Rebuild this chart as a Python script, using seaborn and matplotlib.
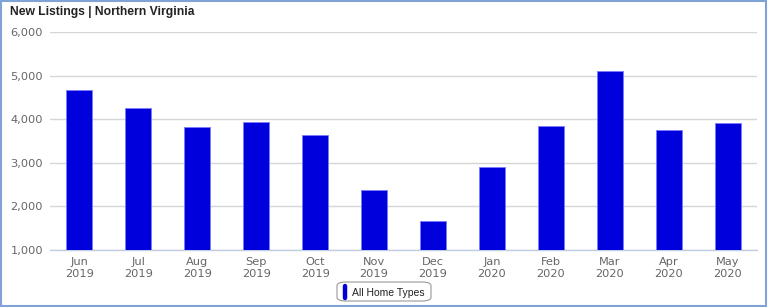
import matplotlib
matplotlib.use("Agg")
import matplotlib.pyplot as plt
import seaborn as sns
import pandas as pd
from matplotlib.patches import Rectangle, FancyBboxPatch
from matplotlib.lines import Line2D

months = ["Jun\n2019", "Jul\n2019", "Aug\n2019", "Sep\n2019", "Oct\n2019", "Nov\n2019",
          "Dec\n2019", "Jan\n2020", "Feb\n2020", "Mar\n2020", "Apr\n2020", "May\n2020"]
listings = [4670, 4250, 3825, 3940, 3640, 2380, 1660, 2910, 3850, 5110, 3760, 3910]
y_ticks = [1000, 2000, 3000, 4000, 5000, 6000]
y_tick_labels = ["1,000", "2,000", "3,000", "4,000", "5,000", "6,000"]

sns.set_style("white")
plt.rcParams['font.family'] = ['DejaVu Sans']

df = pd.DataFrame({"month": months, "listings": listings})

fig = plt.figure(figsize=(7.68, 3.07), dpi=100)
ax = fig.add_axes([0.065, 0.186, 0.921, 0.710])

sns.barplot(data=df, x="month", y="listings", ax=ax, color="#0000DD",
            width=0.44, saturation=1, edgecolor="#7b7bff", linewidth=0.6, zorder=3)

ax.set_ylim(1000, 6000)
ax.set_yticks(y_ticks)
ax.set_yticklabels(y_tick_labels)
ax.set_xlim(-0.5, len(months) - 0.5)
ax.yaxis.grid(True, color="#d6d6d6", linewidth=1.0, zorder=0)
ax.xaxis.grid(False)
for s in ["top", "right", "left"]:
    ax.spines[s].set_visible(False)
ax.spines["bottom"].set_color("#c0cfe3")
ax.spines["bottom"].set_linewidth(1.0)
ax.tick_params(axis="both", length=0, labelsize=8.2, labelcolor="#666666")
ax.tick_params(axis="x", pad=5)
ax.tick_params(axis="y", pad=5)
for lbl in ax.get_xticklabels():
    lbl.set_linespacing(1.25)
ax.set_xlabel("")
ax.set_ylabel("")

fig.text(10 / 768, 1 - 12 / 307, "New Listings | Northern Virginia", fontsize=8.7,
         fontweight="bold", family="Liberation Sans", color="#222222", va="center", ha="left")

# legend box
lx0, ly0, lw, lh = 337 / 768, 1 - 301 / 307, 94 / 768, 19 / 307
box = FancyBboxPatch((lx0, ly0), lw, lh, boxstyle="round,pad=0,rounding_size=0.012",
                     transform=fig.transFigure, facecolor="white", edgecolor="#999999",
                     linewidth=0.8)
fig.patches.append(box)
fig.lines.append(Line2D([345 / 768, 345 / 768], [1 - 298 / 307, 1 - 286 / 307],
                        transform=fig.transFigure, color="#0000DD", linewidth=3.2,
                        solid_capstyle="round"))
fig.text(352 / 768, 1 - 292.5 / 307, "All Home Types", fontsize=7.5, family="Liberation Sans",
         color="#222222", va="center", ha="left")

# figure border
fig.patches.append(Rectangle((0.001, 0.003), 0.997, 0.994, transform=fig.transFigure,
                             fill=False, edgecolor="#7fa3d6", linewidth=1.5))

fig.savefig("out.png", dpi=100)
